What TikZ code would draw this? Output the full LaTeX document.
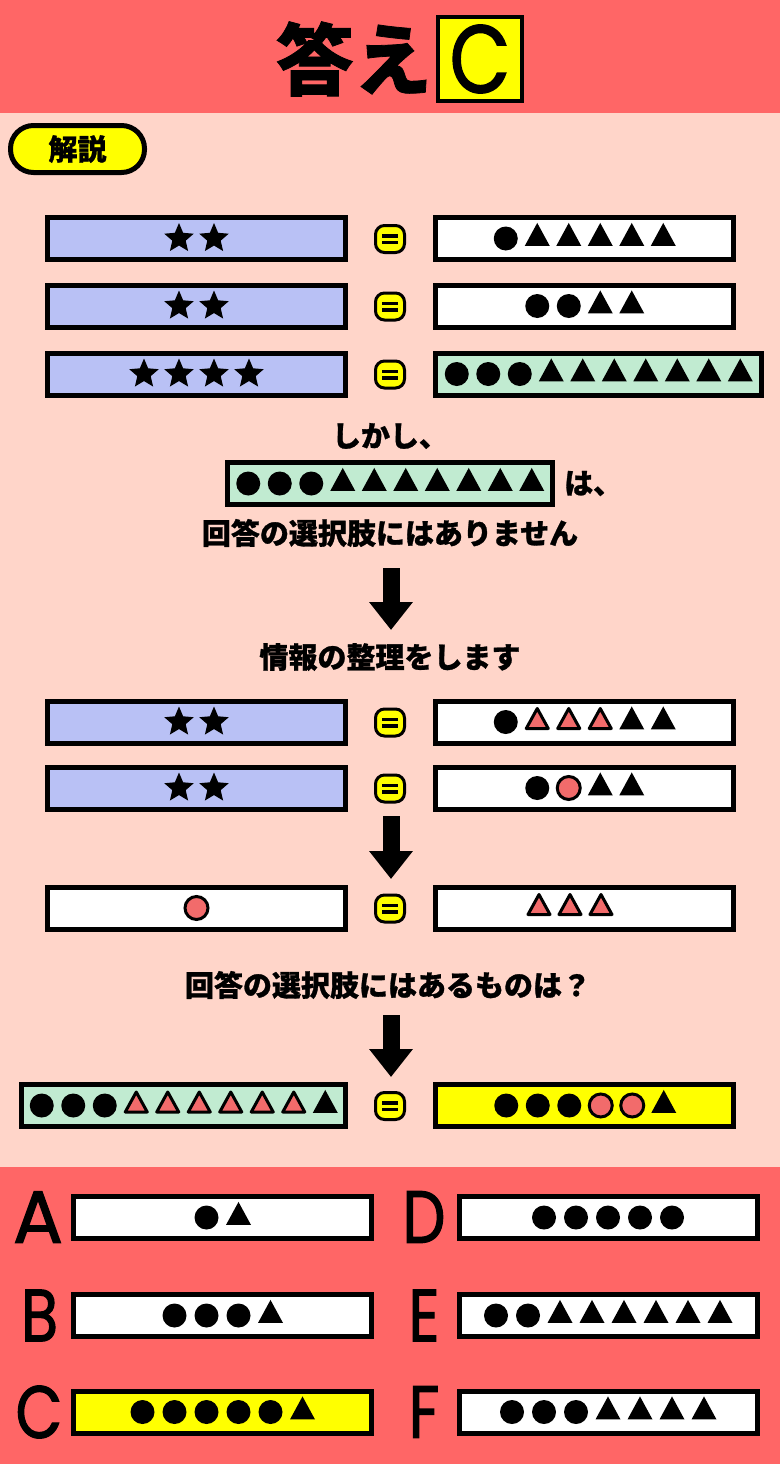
\documentclass[tikz,border=0pt]{standalone}
\usepackage{fontspec}
\newfontfamily\jpfont{Noto Sans CJK JP}[BoldFeatures={FakeBold=1}]
\newfontfamily\geofont{Poppins}[FakeBold=1.6]
\usetikzlibrary{shapes.geometric,arrows.meta,positioning}
\definecolor{hdrred}{HTML}{FF6666}
\definecolor{bgpink}{HTML}{FFD5C9}
\definecolor{barblue}{HTML}{B9C1F5}
\definecolor{bargreen}{HTML}{C1EBD1}
\definecolor{markred}{HTML}{F26B6B}
\definecolor{hiyellow}{HTML}{FFFF00}
\tikzset{bar/.style={rectangle,draw=black,fill=white,line width=5pt,minimum width=298pt,minimum height=42pt,inner sep=0pt},
         eq node/.style={rectangle,rounded corners=9pt,draw=black,fill=hiyellow,line width=3pt,minimum width=29pt,minimum height=27pt,inner sep=0pt,
           path picture={\fill[black,sharp corners] ([xshift=-8pt,yshift=1.5pt]path picture bounding box.center) rectangle ++(16pt,3.5pt);
                         \fill[black,sharp corners] ([xshift=-8pt,yshift=-5pt]path picture bounding box.center) rectangle ++(16pt,3.5pt);}},
         bdot/.style={circle,fill=black,minimum size=24pt,inner sep=0pt},
         rdot/.style={circle,fill=markred,draw=black,line width=3pt,minimum size=23pt,inner sep=0pt},
         btri/.style={isosceles triangle,isosceles triangle stretches,shape border rotate=90,fill=black,minimum width=25pt,minimum height=23pt,inner sep=0pt},
         rtri/.style={btri,fill=markred,draw=black,line width=3pt,line join=round,minimum width=22pt,minimum height=20pt},
         bstar/.style={star,star points=5,star point ratio=2.2,fill=black,minimum size=31pt,inner sep=0pt},
         jp text/.style={font=\jpfont\bfseries\fontsize{29pt}{29pt}\selectfont,inner sep=0pt},
         letter/.style={font=\geofont\fontsize{74pt}{74pt}\selectfont,inner sep=0pt},
         big arrow/.style={line width=17pt,-{Triangle[width=42pt,length=28pt]}}
}
% one row of marks, centred on x
\newcommand{\itemrow}[5][31.5]{%
  \foreach \kind [count=\ix] in {#5} {\xdef\itemcount{\ix}}%
  \foreach \kind [count=\ix] in {#5} {%
    \node[\kind] (#2-\ix) at ({#3+(\ix-(\itemcount+1)/2)*#1},#4) {};}}
\newcommand{\narrow}[1]{\scalebox{0.82}[1]{#1}}
\begin{document}
\begin{tikzpicture}[x=1pt,y=-1pt]
\useasboundingbox (0,0) rectangle (780,1464);
\fill[hdrred] (0,0) rectangle (780,113);
\fill[bgpink] (0,113) rectangle (780,1167);
\fill[hdrred] (0,1167) rectangle (780,1464);

% header
\node[draw=black,fill=hiyellow,line width=4pt,minimum size=84pt,inner sep=0pt,
      font=\geofont\fontsize{96pt}{96pt}\selectfont] (ans) at (480,59) {\narrow{C}};
\node[font=\jpfont\bfseries\fontsize{78pt}{78pt}\selectfont,inner sep=0pt,left=4pt of ans] (ttl) {答え};
\node[draw=black,fill=hiyellow,line width=5pt,rounded corners=23pt,minimum width=134pt,minimum height=47pt,
      inner sep=0pt,jp text] (kaisetsu) at (77.5,149) {解説};

% first three equations
\node[bar,fill=barblue] (bl1) at (196.5,238.5) {};
\node[eq node] (eq1) at (390,239) {};
\node[bar] (br1) at (584.5,238.5) {};
\itemrow[35]{il1}{196.5}{238.5}{bstar,bstar}
\itemrow{ir1}{584.5}{238.5}{bdot,btri,btri,btri,btri,btri}

\node[bar,fill=barblue] (bl2) at (196.5,306) {};
\node[eq node] (eq2) at (390,306.5) {};
\node[bar] (br2) at (584.5,306) {};
\itemrow[35]{il2}{196.5}{306}{bstar,bstar}
\itemrow{ir2}{584.5}{306}{bdot,bdot,btri,btri}

\node[bar,fill=barblue] (bl3) at (196.5,374) {};
\node[eq node] (eq3) at (390,374.5) {};
\node[bar,fill=bargreen,minimum width=326pt] (br3) at (598.5,374) {};
\itemrow[35]{il3}{196.5}{374}{bstar,bstar,bstar,bstar}
\itemrow{ir3}{598.5}{374}{bdot,bdot,bdot,btri,btri,btri,btri,btri,btri,btri}

% remark
\node[jp text] (t1) at (390,436) {しかし、};
\node[bar,fill=bargreen,minimum width=325pt] (gbox) at (390,483.5) {};
\itemrow{ig}{390}{483.5}{bdot,bdot,bdot,btri,btri,btri,btri,btri,btri,btri}
\node[jp text,right=9pt of gbox] (t2) {は、};
\node[jp text] (t3) at (390,533) {回答の選択肢にはありません};
\coordinate (a1top) at (391,568);
\coordinate (a1tip) at (391,630);
\draw[big arrow] (a1top) -- (a1tip);
\node[jp text] (t4) at (390,657) {情報の整理をします};

% sorted
\node[bar,fill=barblue] (bl4) at (196.5,722) {};
\node[eq node] (eq4) at (390,722.5) {};
\node[bar] (br4) at (584.5,722) {};
\itemrow[35]{il4}{196.5}{722}{bstar,bstar}
\itemrow{ir4}{584.5}{722}{bdot,rtri,rtri,rtri,btri,btri}

\node[bar,fill=barblue] (bl5) at (196.5,788) {};
\node[eq node] (eq5) at (390,788.5) {};
\node[bar] (br5) at (584.5,788) {};
\itemrow[35]{il5}{196.5}{788}{bstar,bstar}
\itemrow{ir5}{584.5}{788}{bdot,rdot,btri,btri}

\coordinate (a2top) at (391,816);
\coordinate (a2tip) at (391,879);
\draw[big arrow] (a2top) -- (a2tip);

\node[bar] (bl6) at (196.5,908) {};
\node[eq node] (eq6) at (390,908.5) {};
\node[bar] (br6) at (584.5,908) {};
\itemrow{il6}{196.5}{908}{rdot}
\itemrow[31]{ir6}{570}{908}{rtri,rtri,rtri}

\node[jp text] (t5) at (388,985) {回答の選択肢にはあるものは？};
\coordinate (a3top) at (391,1015);
\coordinate (a3tip) at (391,1077);
\draw[big arrow] (a3top) -- (a3tip);

\node[bar,fill=bargreen,minimum width=324pt] (bl7) at (183.5,1105.5) {};
\node[eq node] (eq7) at (390,1106) {};
\node[bar,fill=hiyellow] (br7) at (584.5,1105.5) {};
\itemrow{il7}{183.5}{1105.5}{bdot,bdot,bdot,rtri,rtri,rtri,rtri,rtri,rtri,btri}
\itemrow{ir7}{585}{1105.5}{bdot,bdot,bdot,rdot,rdot,btri}

% choices
\node[letter] (la) at (38,1217) {A};
\node[bar] (ca) at (222.5,1217.5) {};
\itemrow[32]{ia}{222.5}{1217.5}{bdot,btri}
\node[letter] (lb) at (39.5,1315.5) {\narrow{B}};
\node[bar] (cb) at (222.5,1315.5) {};
\itemrow[32]{ib}{222.5}{1315.5}{bdot,bdot,bdot,btri}
\node[letter] (lc) at (39,1412) {\narrow{C}};
\node[bar,fill=hiyellow] (cc) at (222.5,1412) {};
\itemrow[32]{ic}{222.5}{1412}{bdot,bdot,bdot,bdot,bdot,btri}
\node[letter] (ld) at (424,1217) {\narrow{D}};
\node[bar] (cd) at (608,1217.5) {};
\itemrow[32]{id}{608}{1217.5}{bdot,bdot,bdot,bdot,bdot}
\node[letter] (le) at (424,1315.5) {\narrow{E}};
\node[bar] (ce) at (608,1315.5) {};
\itemrow[32]{ie}{608}{1315.5}{bdot,bdot,btri,btri,btri,btri,btri,btri}
\node[letter] (lf) at (424,1412) {\narrow{F}};
\node[bar] (cf) at (608,1412) {};
\itemrow[32]{if}{608}{1412}{bdot,bdot,bdot,btri,btri,btri,btri}
\end{tikzpicture}
\end{document}
